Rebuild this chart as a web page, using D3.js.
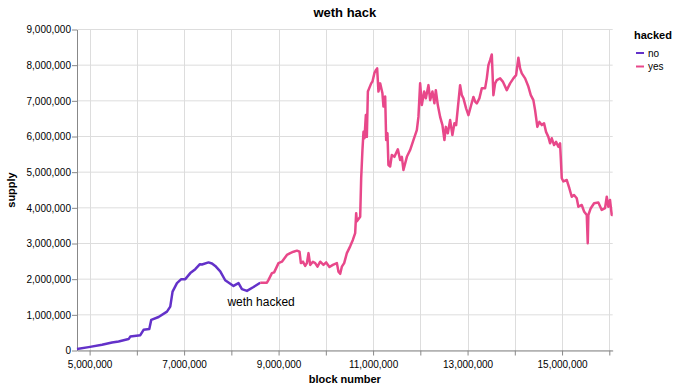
<!DOCTYPE html>
<html>
<head>
<meta charset="utf-8" />
<title>weth hack</title>
<script src="https://cdnjs.cloudflare.com/ajax/libs/d3/7.8.5/d3.min.js"></script>
<style>
	body { margin: 0; background: #fff; }
	svg text { font-family: "Liberation Sans", Arial, Helvetica, sans-serif; }
	.grid line { stroke: #ddd; stroke-width: 1; }
	.axis .domain, .axis .tick line { stroke: #888; }
	.axis .tick text { font-size: 10px; fill: #000; }
</style>
</head>
<body>
<svg id="chart" width="680" height="390"></svg>
<script>
// block numbers and WETH supply before the hack
const noBlocks = [4733000, 4979000, 5262000, 5474000, 5613000, 5825000, 5861000, 6073000, 6142000, 6263000,
	6305000, 6460000, 6637000, 6707000, 6756000, 6849000, 6940000, 7025000, 7131000, 7237000,
	7335000, 7378000, 7517000, 7590000, 7659000, 7765000, 7870000, 8046000, 8152000, 8224000,
	8330000, 8469000, 8611000];
const noSupply = [40000, 95000, 160000, 224000, 252000, 320000, 390000, 430000, 580000, 600000,
	860000, 940000, 1090000, 1230000, 1650000, 1890000, 2000000, 2000000, 2170000, 2280000,
	2420000, 2410000, 2470000, 2440000, 2370000, 2220000, 1970000, 1810000, 1890000, 1720000,
	1670000, 1780000, 1900000];

// after the hack
const yesBlocks = [8611000, 8753000, 8787000, 8859000, 8906000, 8998000, 9070000, 9176000, 9246000, 9316000,
	9388000, 9443000, 9472000, 9515000, 9563000, 9599000, 9633000, 9669000, 9726000, 9775000,
	9823000, 9881000, 9950000, 10007000, 10077000, 10149000, 10234000, 10268000, 10304000, 10339000,
	10388000, 10445000, 10515000, 10572000, 10621000, 10642000, 10657000, 10727000, 10748000, 10775000,
	10797000, 10818000, 10847000, 10868000, 10890000, 10917000, 10960000, 10987000, 11029000, 11059000,
	11086000, 11114000, 11150000, 11198000, 11220000, 11256000, 11277000, 11304000, 11325000, 11361000,
	11397000, 11452000, 11524000, 11573000, 11609000, 11643000, 11715000, 11784000, 11854000, 11926000,
	11960000, 11996000, 12032000, 12081000, 12117000, 12172000, 12208000, 12256000, 12298000, 12328000,
	12370000, 12419000, 12468000, 12510000, 12540000, 12582000, 12631000, 12679000, 12722000, 12758000,
	12842000, 12878000, 12913000, 12969000, 13018000, 13068000, 13124000, 13160000, 13196000, 13250000,
	13301000, 13371000, 13407000, 13441000, 13477000, 13513000, 13547000, 13583000, 13619000, 13689000,
	13746000, 13830000, 13900000, 13970000, 14027000, 14076000, 14112000, 14148000, 14218000, 14287000,
	14338000, 14393000, 14429000, 14477000, 14520000, 14571000, 14619000, 14661000, 14710000, 14746000,
	14782000, 14831000, 14873000, 14922000, 14958000, 14994000, 15028000, 15100000, 15154000, 15205000,
	15254000, 15311000, 15345000, 15417000, 15465000, 15523000, 15544000, 15557000, 15608000, 15678000,
	15768000, 15840000, 15910000, 15946000, 15980000, 16015000, 16051000, 16072000];
const yesSupply = [1900000, 1900000, 1980000, 2170000, 2190000, 2450000, 2490000, 2680000, 2730000, 2770000,
	2800000, 2770000, 2450000, 2490000, 2370000, 2450000, 2730000, 2400000, 2490000, 2450000,
	2350000, 2490000, 2400000, 2470000, 2340000, 2400000, 2450000, 2210000, 2150000, 2350000,
	2450000, 2730000, 2920000, 3100000, 3290000, 3850000, 3620000, 3750000, 4830000, 5620000,
	6130000, 5950000, 6600000, 5990000, 7260000, 7350000, 7490000, 7540000, 7780000, 7860000,
	7910000, 7260000, 7490000, 7210000, 6840000, 7120000, 5900000, 6090000, 5200000, 5160000,
	5480000, 5430000, 5640000, 5340000, 5430000, 5060000, 5430000, 5620000, 5900000, 6180000,
	6550000, 7490000, 6880000, 7260000, 7070000, 7440000, 7020000, 7260000, 6930000, 7300000,
	6880000, 6550000, 6320000, 5900000, 6270000, 6090000, 6460000, 6040000, 6370000, 6320000,
	7440000, 7160000, 7070000, 6790000, 6600000, 6840000, 7110000, 6980000, 6930000, 7070000,
	7350000, 7350000, 7630000, 8000000, 8140000, 8300000, 7160000, 7490000, 7580000, 7630000,
	7540000, 7300000, 7490000, 7630000, 7720000, 8210000, 7910000, 7770000, 7630000, 7400000,
	7160000, 7020000, 6740000, 6270000, 6410000, 6320000, 6370000, 6130000, 5990000, 5810000,
	5950000, 5760000, 5850000, 5710000, 5810000, 4830000, 4740000, 4780000, 4550000, 4310000,
	4360000, 4270000, 4030000, 4080000, 3900000, 3800000, 3010000, 3800000, 3990000, 4130000,
	4150000, 3940000, 3990000, 4310000, 4030000, 4220000, 3800000, 3800000];

const hackedLabels = ['no', 'yes'];
const hackedColors = ['#6331c9', '#e8488a'];
const xTicks = [5000000, 6000000, 7000000, 8000000, 9000000, 10000000, 11000000, 12000000, 13000000, 14000000, 15000000, 16000000];
const yTicks = [0, 1000000, 2000000, 3000000, 4000000, 5000000, 6000000, 7000000, 8000000, 9000000];
const annotation = { block: 8630000, supply: 1330000, text: 'weth hacked' };

const svg = d3.select('#chart');
const plotLeft = 77, plotRight = 612.7, plotTop = 29.5, plotBottom = 350.5;

const allBlocks = noBlocks.concat(yesBlocks);
const x = d3.scaleLinear().domain(d3.extent(allBlocks)).range([plotLeft, plotRight]);
const y = d3.scaleLinear().domain([0, 9000000]).range([plotBottom, plotTop]);
const fmt = d3.format(',');

// grid
const grid = svg.append('g').attr('class', 'grid');
grid.selectAll('line.v').data(xTicks).enter().append('line')
	.attr('x1', d => Math.round(x(d)) + 0.5).attr('x2', d => Math.round(x(d)) + 0.5)
	.attr('y1', plotTop).attr('y2', plotBottom);
grid.selectAll('line.h').data(yTicks).enter().append('line')
	.attr('x1', plotLeft).attr('x2', plotRight)
	.attr('y1', d => y(d)).attr('y2', d => y(d));

// axes
svg.append('g').attr('class', 'axis')
	.attr('transform', `translate(0,${plotBottom})`)
	.call(d3.axisBottom(x).tickValues(xTicks).tickSize(5).tickSizeOuter(0)
		.tickFormat(d => (d / 1000000) % 2 == 1 ? fmt(d) : ''))
	.call(g => g.selectAll('.tick text').attr('dy', '0.9em'));
svg.append('g').attr('class', 'axis')
	.attr('transform', `translate(${plotLeft},0)`)
	.call(d3.axisLeft(y).tickValues(yTicks).tickSize(5).tickSizeOuter(0).tickFormat(fmt))
	.call(g => g.selectAll('.tick text').attr('x', -6));

// lines
const line = d3.line().x(d => x(d[0])).y(d => y(d[1]));
const series = [
	{ key: 'no', pts: d3.zip(noBlocks, noSupply) },
	{ key: 'yes', pts: d3.zip(yesBlocks, yesSupply) }
];
svg.selectAll('path.series').data(series).enter().append('path')
	.attr('class', 'series')
	.attr('fill', 'none')
	.attr('stroke', d => hackedColors[hackedLabels.indexOf(d.key)])
	.attr('stroke-width', 2.5)
	.attr('stroke-linejoin', 'round')
	.attr('d', d => line(d.pts));

// annotation
svg.append('text')
	.attr('x', x(annotation.block)).attr('y', y(annotation.supply))
	.attr('text-anchor', 'middle').attr('dominant-baseline', 'middle')
	.attr('font-size', 12).attr('fill', '#000')
	.text(annotation.text);

// titles
svg.append('text').attr('x', (plotLeft + plotRight) / 2).attr('y', 16.5)
	.attr('text-anchor', 'middle').attr('font-size', 13).attr('font-weight', 'bold')
	.text('weth hack');
svg.append('text').attr('x', (plotLeft + plotRight) / 2).attr('y', 383)
	.attr('text-anchor', 'middle').attr('font-size', 11).attr('font-weight', 'bold')
	.text('block number');
svg.append('text').attr('transform', `translate(15,${(plotTop + plotBottom) / 2}) rotate(-90)`)
	.attr('text-anchor', 'middle').attr('font-size', 11).attr('font-weight', 'bold')
	.text('supply');

// legend
const legend = svg.append('g').attr('transform', 'translate(634,0)');
legend.append('text').attr('x', 0).attr('y', 38.5)
	.attr('font-size', 11).attr('font-weight', 'bold').text('hacked');
const items = legend.selectAll('g.item').data(hackedLabels).enter().append('g')
	.attr('class', 'item')
	.attr('transform', (d, i) => `translate(0,${53 + i * 13.5})`);
items.append('line').attr('x1', 2).attr('x2', 10).attr('y1', 0).attr('y2', 0)
	.attr('stroke', (d, i) => hackedColors[i]).attr('stroke-width', 2);
items.append('text').attr('x', 14).attr('y', 0).attr('dy', '0.35em')
	.attr('font-size', 10).attr('fill', '#000').text(d => d);
</script>
</body>
</html>
